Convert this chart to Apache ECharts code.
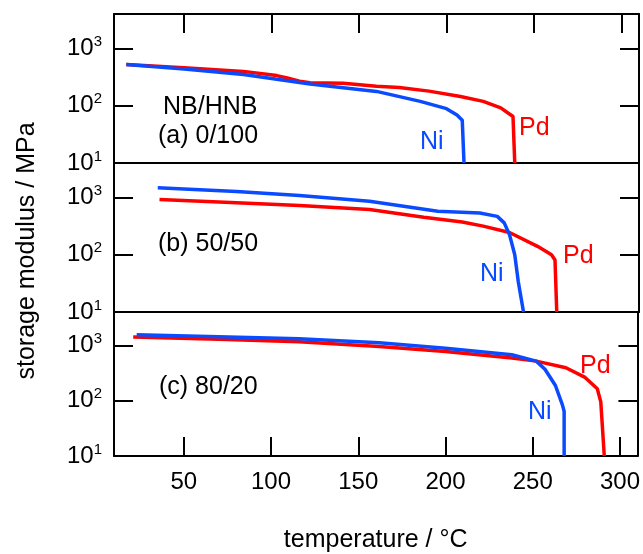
<!DOCTYPE html>
<html>
<head>
<meta charset="utf-8">
<script src="https://cdn.jsdelivr.net/npm/echarts@6/dist/echarts.min.js"></script>
<style>
  html, body { margin: 0; padding: 0; background: #fff; }
  #main { width: 643px; height: 554px; }
</style>
</head>
<body>
<div id="main"></div>
<script>
// 温度 (°C) 与储能模量 (MPa) 读数
var tempTicks = [50, 100, 150, 200, 250, 300];

// (a) 0/100
var pdA = [[17, 525], [50, 460], [84, 398], [103, 336], [109, 306], [116, 269], [122, 251], [141, 247], [160, 219], [173, 209], [190, 180], [208, 145], [221, 119], [231, 92], [238, 65], [239, 10]];
var niA = [[17, 525], [50, 440], [84, 350], [122, 240], [160, 178], [185, 119], [200, 89], [206, 69], [209, 56], [210, 10]];
// (b) 50/50
var pdB = [[36, 923], [80, 810], [116, 724], [156, 617], [187, 452], [209, 372], [221, 316], [236, 245], [252, 140], [260, 100], [262, 81], [263, 10]];
var niB = [[35, 1480], [80, 1270], [116, 1084], [156, 861], [195, 575], [219, 537], [229, 468], [233, 360], [236, 224], [239, 100], [241, 34], [244, 10]];
// (c) 80/20
var pdC = [[21, 1413], [70, 1290], [116, 1161], [162, 948], [200, 776], [238, 589], [252, 518], [269, 394], [280, 263], [287, 164], [289, 95], [291, 10]];
var niC = [[23, 1549], [70, 1430], [116, 1318], [162, 1114], [200, 885], [238, 676], [252, 518], [257, 369], [263, 188], [267, 84], [268, 64], [268, 10]];

var panelLabels = ['(a) 0/100', '(b) 50/50', '(c) 80/20'];

var RED = '#ff0000';
var BLUE = '#0a4bff';
var FONT = 'Liberation Sans, Arial, sans-serif';
var axisColor = '#000';

var chart = echarts.init(document.getElementById('main'));

var gridTops = [14, 163, 312];
var grids = gridTops.map(function(t) {
    return { left: 114, right: 4, top: t, height: 149 };
});

var xAxes = [];
[0, 1, 2].forEach(function(i) {
    xAxes.push({
        type: 'value', gridIndex: i, min: 10, max: 310, position: 'bottom',
        axisLine: { show: true, onZero: false, lineStyle: { color: axisColor, width: 2 } },
        splitLine: { show: false },
        axisTick: { show: i === 2, inside: true, length: 19, customValues: tempTicks, lineStyle: { color: axisColor, width: 2 } },
        axisLabel: { show: i === 2, margin: 14, customValues: tempTicks, fontSize: 24, color: axisColor, fontFamily: FONT },
        name: i === 2 ? 'temperature / °C' : '',
        nameLocation: 'middle', nameGap: 72,
        nameTextStyle: { fontSize: 25, color: axisColor, fontFamily: FONT }
    });
});
[0, 1, 2].forEach(function(i) {
    xAxes.push({
        type: 'value', gridIndex: i, min: 10, max: 310, position: 'top',
        axisLine: { show: true, onZero: false, lineStyle: { color: axisColor, width: 2 } },
        splitLine: { show: false },
        axisTick: { show: i === 0, inside: true, length: 19, customValues: tempTicks, lineStyle: { color: axisColor, width: 2 } },
        axisLabel: { show: false }
    });
});

var yAxes = [];
[0, 1, 2].forEach(function(i) {
    yAxes.push({
        type: 'log', gridIndex: i, min: 10, max: 4000, position: 'left',
        axisLine: { show: true, onZero: false, lineStyle: { color: axisColor, width: 2 } },
        splitLine: { show: false },
        axisTick: { show: true, inside: true, length: 19, lineStyle: { color: axisColor, width: 2 } },
        axisLabel: {
            showMaxLabel: false, margin: 12,
            formatter: function(v) {
                return '{b|10}{s|' + Math.round(Math.log10(v)) + '}';
            },
            rich: {
                b: { fontSize: 24, fontFamily: FONT, color: axisColor },
                s: { fontSize: 15, fontFamily: FONT, color: axisColor, verticalAlign: 'bottom', padding: [0, 0, 13, 0] }
            }
        },
        name: i === 1 ? 'storage modulus / MPa' : '',
        nameLocation: 'middle', nameRotate: 90, nameGap: 74,
        nameTextStyle: { fontSize: 25, color: axisColor, fontFamily: FONT, padding: [0, 27, 0, 0] }
    });
});
[0, 1, 2].forEach(function(i) {
    yAxes.push({
        type: 'log', gridIndex: i, min: 10, max: 4000, position: 'right',
        axisLine: { show: true, onZero: false, lineStyle: { color: axisColor, width: 2 } },
        splitLine: { show: false },
        axisTick: { show: true, inside: true, length: 19, lineStyle: { color: axisColor, width: 2 } },
        axisLabel: { show: false }
    });
});

function line(data, idx, color) {
    return {
        type: 'line', data: data, xAxisIndex: idx, yAxisIndex: idx,
        showSymbol: false, lineStyle: { color: color, width: 3.5 }
    };
}

// 注释文字用 title 放置（left/top 为文字左上角）
function note(left, top, s, color) {
    return {
        text: s, left: left, top: top, padding: 0,
        textStyle: { fontSize: 25, fontWeight: 'normal', color: color || axisColor, fontFamily: FONT }
    };
}

var option = {
    animation: false,
    title: [
        note(163, 95, 'NB/HNB'),
        note(158, 124, panelLabels[0]),
        note(158, 232, panelLabels[1]),
        note(159, 375, panelLabels[2]),
        note(519, 116, 'Pd', RED), note(420, 130, 'Ni', BLUE),
        note(563, 244, 'Pd', RED), note(480, 262, 'Ni', BLUE),
        note(580, 354, 'Pd', RED), note(528, 400, 'Ni', BLUE)
    ],
    grid: grids,
    xAxis: xAxes,
    yAxis: yAxes,
    series: [
        line(pdA, 0, RED), line(niA, 0, BLUE),
        line(pdB, 1, RED), line(niB, 1, BLUE),
        line(pdC, 2, RED), line(niC, 2, BLUE)
    ]
};
chart.setOption(option);
</script>
</body>
</html>
